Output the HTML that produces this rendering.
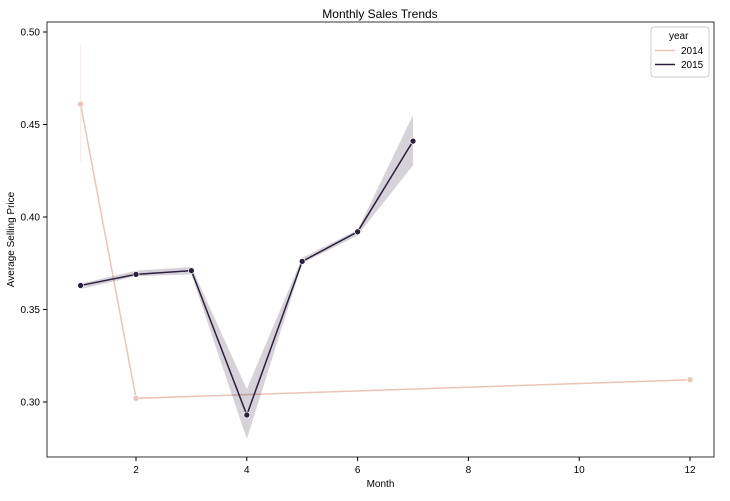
<!DOCTYPE html>
<html><head><meta charset="utf-8"><style>
body{margin:0;background:#fff;font-family:"Liberation Sans",sans-serif;}
svg text{font-family:"Liberation Sans",sans-serif;fill:#000;}
</style></head><body>
<svg id="chart" width="730" height="496">
<text x="380" y="18" font-size="12" text-anchor="middle">Monthly Sales Trends</text>
<g id="plot"></g>
</svg>
<script>
const months2014=[1,2,12];
const price2014=[0.461,0.302,0.312];
const lo2014=[0.43,0.302,0.312];
const hi2014=[0.493,0.302,0.312];
const months2015=[1,2,3,4,5,6,7];
const price2015=[0.363,0.369,0.371,0.293,0.376,0.392,0.441];
const lo2015=[0.361,0.368,0.369,0.280,0.375,0.390,0.428];
const hi2015=[0.364,0.371,0.373,0.307,0.378,0.393,0.455];
const xTicks=[2,4,6,8,10,12];
const yTicks=[0.30,0.35,0.40,0.45,0.50];
const L=47,R=714,T=22,B=457;
const X=v=>80.6+(v-1)*55.4;
const Y=v=>402-(v-0.30)*1850;
const NS="http://www.w3.org/2000/svg";
const g=document.getElementById('plot');
function mk(t,a,p){const e=document.createElementNS(NS,t);for(const k in a)e.setAttribute(k,a[k]);(p||g).appendChild(e);return e;}
const frame=mk('rect',{x:L,y:T,width:R-L,height:B-T,fill:'none',stroke:'#000','stroke-width':0.8});


xTicks.forEach(t=>{
 const l=mk('line',{x1:X(t),x2:X(t),y1:B,y2:B+4,stroke:'#000'});
 
 
 const tx=mk('text',{x:X(t),y:B+16,'font-size':10,'text-anchor':'middle'});tx.textContent=t;
 
 
});
yTicks.forEach(t=>{
 const l=mk('line',{x1:L-4,x2:L,y1:Y(t),y2:Y(t),stroke:'#000'});
 
 
 const tx=mk('text',{x:L-7,y:Y(t)+3.5,'font-size':10,'text-anchor':'end'});tx.textContent=t.toFixed(2);
 
 
});
const xt=mk('text',{x:(L+R)/2,y:487,'font-size':10,'text-anchor':'middle'});xt.textContent='Month';


const yt=mk('text',{x:14,y:(T+B)/2,'font-size':10,'text-anchor':'middle',transform:`rotate(-90 14 ${(T+B)/2})`});yt.textContent='Average Selling Price';


function series(ms,ps,lo,hi,color,name,bandOp){
 if(bandOp>0){
 let d='';ms.forEach((m,i)=>d+=(i?'L':'M')+X(m)+','+Y(hi[i]));
 for(let i=ms.length-1;i>=0;i--)d+='L'+X(ms[i])+','+Y(lo[i]);
 const band=mk('path',{d:d+'Z',fill:color,'fill-opacity':bandOp,stroke:'none'});
 
 
 } else {
 const cl=mk('line',{x1:X(ms[0]),x2:X(ms[0]),y1:Y(hi[0]),y2:Y(lo[0]),stroke:color,'stroke-opacity':0.35});
 
 
 }
 const pts=ms.map((m,i)=>X(m)+','+Y(ps[i])).join(' ');
 const pl=mk('polyline',{points:pts,fill:'none',stroke:color,'stroke-width':1.5});
 
 
 ms.forEach((m,i)=>{const c=mk('circle',{cx:X(m),cy:Y(ps[i]),r:3,fill:color,stroke:'#fff','stroke-width':0.7});
 
 });
}
series(months2014,price2014,lo2014,hi2014,'#ebc4b8','series-2014',0);
series(months2015,price2015,lo2015,hi2015,'#2c1e3d','series-2015',0.2);
const lg=mk('g',{});


mk('rect',{x:651,y:27,width:58,height:50,fill:'#fff',stroke:'#ccc',rx:3},lg);
const lt=mk('text',{x:669,y:39,'font-size':10},lg);lt.textContent='year';


[['2014','#ebc4b8',54],['2015','#2c1e3d',68]].forEach(([n,c,y])=>{
 const l=mk('line',{x1:655,x2:675,y1:y-3.5,y2:y-3.5,stroke:c,'stroke-width':1.5},lg);
 
 
 const t=mk('text',{x:681,y:y,'font-size':10},lg);t.textContent=n;
 
 
});
</script>
</body></html>
